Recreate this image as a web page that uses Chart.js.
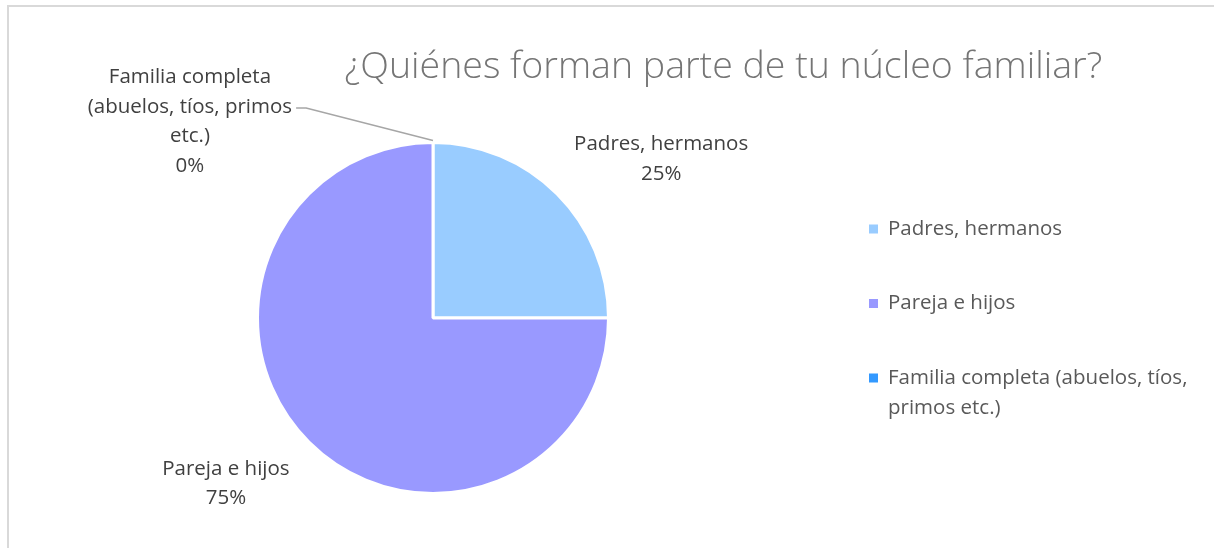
<!DOCTYPE html>
<html>
<head>
<meta charset="utf-8">
<script src="https://cdn.jsdelivr.net/npm/chart.js@4"></script>
<style>
  html, body { margin: 0; padding: 0; background: #ffffff; }
  #wrap { position: relative; width: 1214px; height: 548px; }
</style>
</head>
<body>
<div id="wrap"><canvas id="c" width="1214" height="548"></canvas></div>
<script>
const title = "¿Quiénes forman parte de tu núcleo familiar?";
const categories = ["Padres, hermanos", "Pareja e hijos", "Familia completa (abuelos, tíos, primos etc.)"];
const values = [25, 75, 0];
const sliceColors = ["#99CCFF", "#9999FF", "#3399FF"];
// data-label text lines (as shown next to the pie)
const labelLines = [
  ["Padres, hermanos"],
  ["Pareja e hijos"],
  ["Familia completa", "(abuelos, tíos, primos", "etc.)"]
];
// legend text lines (wrapped as in the picture)
const legendLines = [
  ["Padres, hermanos"],
  ["Pareja e hijos"],
  ["Familia completa (abuelos, tíos,", "primos etc.)"]
];

const FONT = '"Open Sans", "Noto Sans", sans-serif';

const decor = {
  id: 'decor',
  beforeDraw(chart) {
    const ctx = chart.ctx;
    ctx.save();
    ctx.strokeStyle = '#d9d9d9';
    ctx.lineWidth = 2;
    ctx.beginPath();
    ctx.moveTo(8, 600);
    ctx.lineTo(8, 6);
    ctx.lineTo(1300, 6);
    ctx.stroke();
    ctx.restore();
  },
  afterDraw(chart) {
    const ctx = chart.ctx;
    const meta = chart.getDatasetMeta(0);
    const arcs = meta.data;
    const cx = arcs[0].x, cy = arcs[0].y, r = arcs[0].outerRadius;
    const total = values.reduce((a, b) => a + b, 0);
    ctx.save();

    // title
    ctx.fillStyle = '#757575';
    ctx.font = '300 37.5px ' + FONT;
    ctx.textAlign = 'center';
    ctx.textBaseline = 'middle';
    ctx.fillText(title, cx + r * 1.655, cy - r * 1.43);

    // data labels
    ctx.font = '20.5px ' + FONT;
    ctx.fillStyle = '#404040';
    const lh = 29.5;
    const anchors = [
      [cx + r * 1.30, cy - r * 0.99],   // Padres
      [cx - r * 1.18, cy + r * 0.86],   // Pareja
      [cx - r * 1.385, cy - r * 1.37]   // Familia
    ];
    values.forEach((v, i) => {
      const lines = labelLines[i].concat([Math.round(v / total * 100) + '%']);
      const [ax, ay] = anchors[i];
      lines.forEach((t, k) => ctx.fillText(t, ax, ay + k * lh));
    });

    // leader line for the 0% slice
    const a0 = arcs[2].startAngle;
    const ex = cx + (r + 2) * Math.cos(a0), ey = cy + (r + 2) * Math.sin(a0);
    const half = ctx.measureText(labelLines[2][1]).width / 2;
    const fx = anchors[2][0] + half + 4, fy = anchors[2][1] + lh + 1;
    ctx.strokeStyle = '#a6a6a6';
    ctx.lineWidth = 1.5;
    ctx.beginPath();
    ctx.moveTo(fx, fy);
    ctx.lineTo(fx + 10, fy);
    ctx.lineTo(ex, ey);
    ctx.stroke();

    // legend
    const lx = 869, ly0 = 229, step = 74.5;
    ctx.textAlign = 'left';
    ctx.font = '20.5px ' + FONT;
    categories.forEach((c, i) => {
      const y = ly0 + i * step;
      ctx.fillStyle = sliceColors[i];
      ctx.fillRect(lx, y - 4.5, 9, 9);
      ctx.fillStyle = '#595959';
      legendLines[i].forEach((t, k) => ctx.fillText(t, lx + 19, y + k * 30));
    });
    ctx.restore();
  }
};

new Chart(document.getElementById('c'), {
  type: 'pie',
  data: {
    labels: categories,
    datasets: [{
      data: values,
      backgroundColor: sliceColors,
      borderColor: '#ffffff',
      borderWidth: 3
    }]
  },
  options: {
    responsive: false,
    animation: false,
    layout: { padding: { left: 256, right: 604, top: 141, bottom: 53 } },
    plugins: {
      legend: { display: false },
      title: { display: false },
      tooltip: { enabled: false }
    }
  },
  plugins: [decor]
});
</script>
</body>
</html>
